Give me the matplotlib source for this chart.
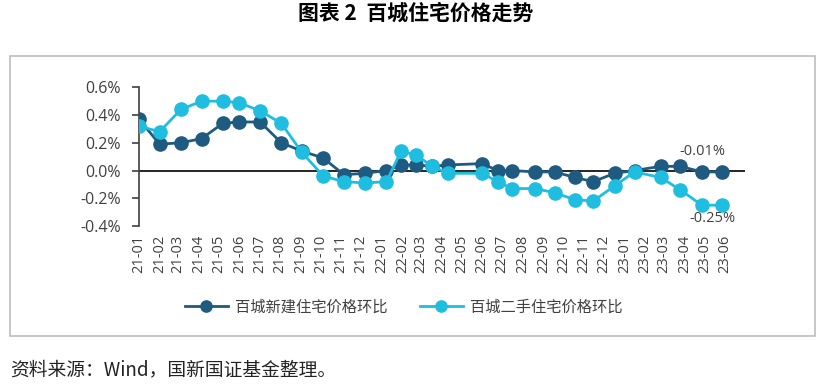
import matplotlib
matplotlib.use("Agg")
import matplotlib.pyplot as plt
import pandas as pd
from matplotlib.patches import Rectangle

plt.rcParams['font.family'] = ['Open Sans', 'Noto Sans CJK SC', 'DejaVu Sans']

dates = ['2021-01-01', '2021-02-01', '2021-03-05', '2021-04-05', '2021-05-07',
         '2021-05-31', '2021-07-02', '2021-08-03', '2021-09-03', '2021-10-05',
         '2021-11-05', '2021-12-07', '2022-01-08', '2022-01-30', '2022-02-22',
         '2022-03-18', '2022-04-10', '2022-06-01', '2022-06-24', '2022-07-16',
         '2022-08-19', '2022-09-18', '2022-10-18', '2022-11-15', '2022-12-17',
         '2023-01-16', '2023-02-24', '2023-03-26', '2023-04-27', '2023-05-27']
new_home = [0.37, 0.19, 0.20, 0.23, 0.34, 0.35, 0.35, 0.20, 0.14, 0.09,
            -0.03, -0.02, 0.00, 0.04, 0.04, 0.03, 0.04, 0.05, 0.00, 0.00,
            -0.01, -0.01, -0.05, -0.08, -0.02, 0.00, 0.03, 0.03, -0.01, -0.01]
second_home = [0.32, 0.28, 0.44, 0.50, 0.50, 0.49, 0.43, 0.34, 0.13, -0.04,
               -0.08, -0.09, -0.08, 0.14, 0.11, 0.03, -0.02, -0.02, -0.08, -0.13,
               -0.13, -0.16, -0.21, -0.22, -0.11, -0.01, -0.05, -0.14, -0.25, -0.25]
series_names = ['百城新建住宅价格环比', '百城二手住宅价格环比']
title = '图表 2  百城住宅价格走势'
source = '资料来源：Wind，国新国证基金整理。'

x = pd.to_datetime(dates)
months = pd.date_range('2021-01-01', '2023-06-01', freq='MS')

dark = '#1f5a80'
light = '#1fbde0'
txt = '#404040'

W, H = 831, 389
fig = plt.figure(figsize=(W / 100, H / 100), dpi=100)

# outer frame
fig.patches.append(Rectangle((10 / W, 1 - 336 / H), 805 / W, 280 / H,
                             transform=fig.transFigure, fill=False,
                             edgecolor='#bdbdbd', linewidth=1.2))

ax = fig.add_axes([139 / W, 1 - 226 / H, 606 / W, 138.7 / H])

ax.plot(x, new_home, color=dark, lw=2, marker='o', ms=9.5, label=series_names[0], zorder=3)
ax.plot(x, second_home, color=light, lw=2, marker='o', ms=9.5, label=series_names[1], zorder=4)
ax.axhline(0, color='black', lw=1.2, zorder=2)

ax.set_ylim(-0.4, 0.6)
ax.set_yticks([-0.4, -0.2, 0.0, 0.2, 0.4, 0.6])
ax.set_yticklabels([f'{v:.1f}%' for v in ax.get_yticks()])
ax.set_xlim(pd.Timestamp('2021-01-01'), pd.Timestamp('2023-07-01'))
ax.set_xticks(months)
ax.set_xticklabels([m.strftime('%y-%m') for m in months], rotation=90)

for s in ['top', 'right', 'bottom']:
    ax.spines[s].set_visible(False)
ax.spines['left'].set_color('#404040')
ax.spines['left'].set_linewidth(1.2)
ax.tick_params(axis='y', length=5, width=1.2, color='#404040', labelsize=11.5, labelcolor=txt, pad=8)
ax.tick_params(axis='x', length=0, labelsize=10.5, labelcolor=txt, pad=6)

ax.annotate(f'{new_home[-1]:.2f}%', (x[-1], new_home[-1]), xytext=(-14, 9),
            textcoords='offset points', ha='center', va='bottom', fontsize=10.5, color=txt)
ax.annotate(f'{second_home[-1]:.2f}%', (x[-1], second_home[-1]), xytext=(-7, -4),
            textcoords='offset points', ha='center', va='top', fontsize=10.5, color=txt)

fig.legend(loc='center', bbox_to_anchor=(404 / W, 1 - 307 / H), ncol=2, frameon=False,
           prop={'family': 'Noto Sans CJK SC', 'size': 11}, labelcolor=txt,
           handlelength=2.8, columnspacing=2.1, handletextpad=0.5, markerscale=0.85)

fig.text(416 / W, 1 - 13 / H, title, ha='center', va='center', fontsize=15,
         fontweight='bold', family='Noto Sans CJK SC', color='black')
fig.text(10 / W, 1 - 370 / H, source, ha='left', va='center', fontsize=13.5,
         family='Noto Sans CJK SC', color='#222222')

fig.savefig('out.png', dpi=100)
